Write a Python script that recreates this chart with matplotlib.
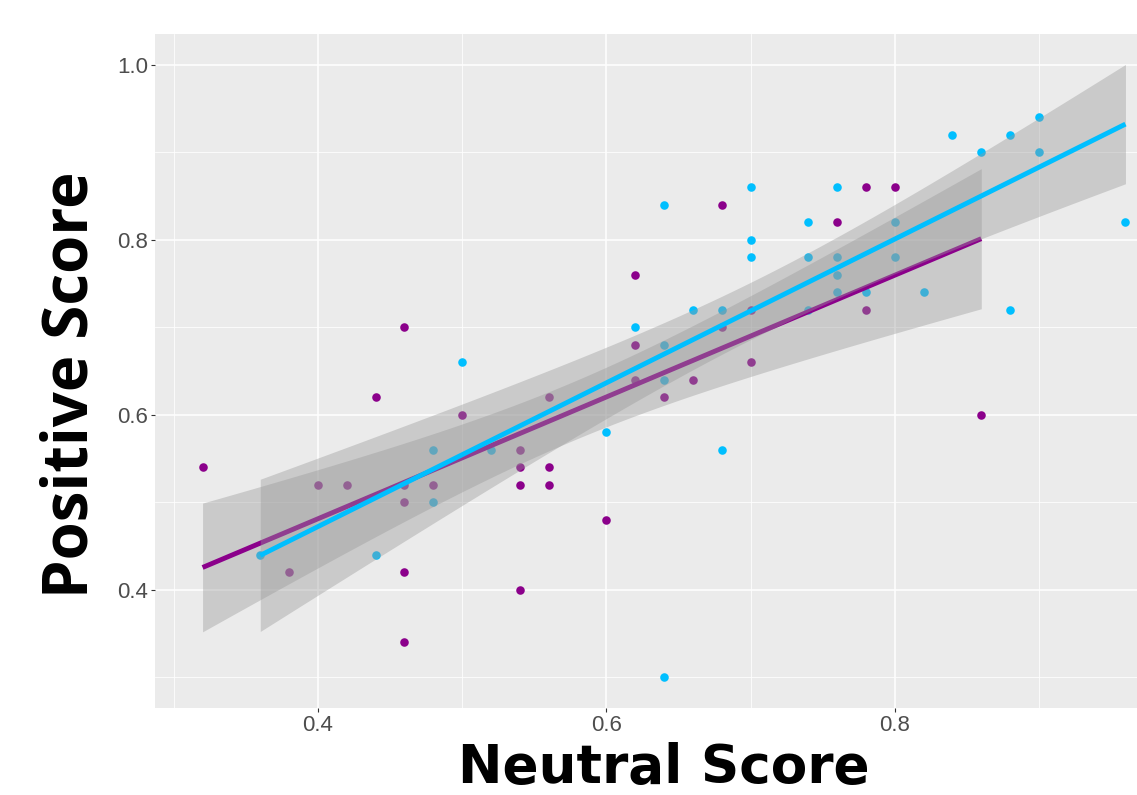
import numpy as np
import matplotlib
matplotlib.use("Agg")
import matplotlib.pyplot as plt
from matplotlib import font_manager

# ---- data ----
purple_x = [0.32, 0.38, 0.40, 0.42, 0.44, 0.46, 0.46, 0.46, 0.46, 0.46, 0.48, 0.50,
            0.54, 0.54, 0.54, 0.54, 0.56, 0.56, 0.56, 0.60, 0.62, 0.62, 0.62, 0.64,
            0.66, 0.68, 0.68, 0.70, 0.70, 0.76, 0.78, 0.78, 0.80, 0.86]
purple_y = [0.54, 0.42, 0.52, 0.52, 0.62, 0.70, 0.52, 0.50, 0.42, 0.34, 0.52, 0.60,
            0.56, 0.54, 0.52, 0.40, 0.62, 0.54, 0.52, 0.48, 0.76, 0.68, 0.64, 0.62,
            0.64, 0.84, 0.70, 0.72, 0.66, 0.82, 0.86, 0.72, 0.86, 0.60]

cyan_x = [0.36, 0.44, 0.48, 0.48, 0.50, 0.52, 0.60, 0.62, 0.64, 0.64, 0.64, 0.64,
          0.66, 0.68, 0.68, 0.70, 0.70, 0.70, 0.74, 0.74, 0.74, 0.76, 0.76, 0.76,
          0.76, 0.78, 0.80, 0.80, 0.82, 0.84, 0.86, 0.88, 0.88, 0.90, 0.90, 0.96]
cyan_y = [0.44, 0.44, 0.56, 0.50, 0.66, 0.56, 0.58, 0.70, 0.84, 0.68, 0.64, 0.30,
          0.72, 0.72, 0.56, 0.86, 0.80, 0.78, 0.82, 0.78, 0.72, 0.86, 0.78, 0.76,
          0.74, 0.74, 0.82, 0.78, 0.74, 0.92, 0.90, 0.92, 0.72, 0.94, 0.90, 0.82]

x_ticks = [0.4, 0.6, 0.8]
y_ticks = [0.4, 0.6, 0.8, 1.0]
x_label = "Neutral Score"
y_label = "Positive Score"

PURPLE = "#8B008B"
CYAN = "#00BFFF"


def t975(df):
    z = 1.959963985
    return (z + (z**3 + z) / (4 * df)
            + (5 * z**5 + 16 * z**3 + 3 * z) / (96 * df**2))


def lm_band(xs, ys, n=80):
    xs = np.asarray(xs); ys = np.asarray(ys)
    b, a = np.polyfit(xs, ys, 1)
    grid = np.linspace(xs.min(), xs.max(), n)
    fit = a + b * grid
    resid = ys - (a + b * xs)
    dof = len(xs) - 2
    s = np.sqrt(np.sum(resid**2) / dof)
    sxx = np.sum((xs - xs.mean())**2)
    se = s * np.sqrt(1 / len(xs) + (grid - xs.mean())**2 / sxx)
    t = t975(dof)
    return grid, fit, fit - t * se, fit + t * se


# pick a condensed bold face for the x title if one is installed
narrow = None
for fe in font_manager.fontManager.ttflist:
    nm = fe.name.lower()
    if ("narrow" in nm or "condensed" in nm or fe.stretch in ("condensed", "semi-condensed")) \
            and fe.weight in ("bold", 700):
        narrow = fe.name
        break
if narrow is None:
    for fe in font_manager.fontManager.ttflist:
        nm = fe.name.lower()
        if "narrow" in nm or "condensed" in nm:
            narrow = fe.name
            break

W, H = 1137, 795
fig = plt.figure(figsize=(W / 100, H / 100), dpi=100)
ax = fig.add_axes([155 / W, 1 - 708 / H, 1 - 155 / W, (708 - 34) / H])
ax.set_facecolor("#EBEBEB")
for sp in ax.spines.values():
    sp.set_visible(False)

ax.set_xlim(0.287, 0.968)
ax.set_ylim(0.265, 1.035)
ax.set_xticks(x_ticks)
ax.set_yticks(y_ticks)
ax.set_xticks([0.3, 0.5, 0.7, 0.9], minor=True)
ax.set_yticks([0.3, 0.5, 0.7, 0.9], minor=True)
ax.set_xticklabels([f"{v:.1f}" for v in x_ticks])
ax.set_yticklabels([f"{v:.1f}" for v in y_ticks])
ax.grid(which="major", color="white", lw=1.1)
ax.grid(which="minor", color="white", lw=0.55)
ax.set_axisbelow(True)
ax.tick_params(which="major", length=3, width=0.8, color="#333333",
               labelsize=16, labelcolor="#4D4D4D", pad=2)
ax.tick_params(which="minor", length=0)
for lab in ax.get_xticklabels() + ax.get_yticklabels():
    lab.set_fontfamily(["Liberation Sans", "DejaVu Sans"])

# points first
ax.scatter(purple_x, purple_y, s=38, color=PURPLE, linewidths=0, zorder=2)
ax.scatter(cyan_x, cyan_y, s=38, color=CYAN, linewidths=0, zorder=2)

# smooths: ribbon then line, per group
z = 3
for xs, ys, col in [(purple_x, purple_y, PURPLE), (cyan_x, cyan_y, CYAN)]:
    g, f, lo, hi = lm_band(xs, ys)
    ax.fill_between(g, lo, hi, color="#999999", alpha=0.4, linewidth=0, zorder=z)
    ax.plot(g, f, color=col, lw=3.5, solid_capstyle="butt", zorder=z + 1)
    z += 2

xt = fig.text(664 / W, 12 / H, x_label, ha="center", va="baseline",
              fontsize=50, fontweight="bold",
              family=[narrow if narrow else "DejaVu Sans", "DejaVu Sans"])
# fit the title width to the reference (about 412 px)
fig.canvas.draw()
wpx = xt.get_window_extent().width
if wpx > 0:
    xt.set_fontsize(50 * 412 / wpx)

fig.text(88 / W, 1 - 385 / H, y_label, rotation=90, rotation_mode="anchor",
         ha="center", va="baseline", fontsize=44.5, fontweight="bold",
         family=["Open Sans", "DejaVu Sans"])

fig.savefig("out.png", dpi=100)
